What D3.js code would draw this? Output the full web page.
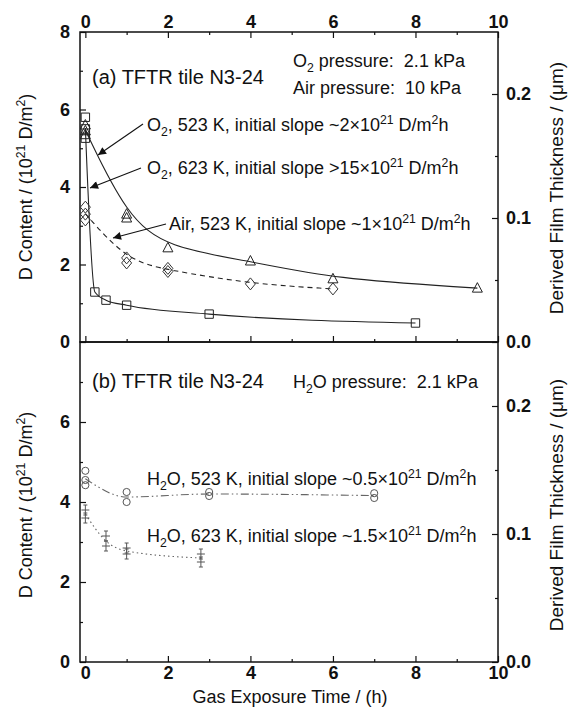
<!DOCTYPE html>
<html>
<head>
<meta charset="utf-8">
<script src="https://cdn.jsdelivr.net/npm/d3@7"></script>
<style>
  body { margin: 0; background: #fff; }
  svg text { font-family: "Liberation Sans", Arial, Helvetica, sans-serif; fill: #111; }
  .tick text { font-weight: bold; font-size: 18px; }
</style>
</head>
<body>
<svg width="579" height="711"></svg>
<script>
// ---- data (time in h, D content in 1e21 D/m2) ----
const timeTicks = [0, 2, 4, 6, 8, 10];
const timeMinor = [1, 3, 5, 7, 9];
const dTicksA = [0, 2, 4, 6, 8];
const dTicksB = [0, 2, 4, 6];
const dMinor = [1, 3, 5, 7];
const filmTicks = [0, 0.1, 0.2];
const filmMinor = [0.05, 0.15];

// (a) O2 523 K, triangles
const o2Lo_t = [0, 0, 0, 1, 1, 2, 4, 6, 9.5];
const o2Lo_d = [5.6, 5.45, 5.35, 3.3, 3.2, 2.43, 2.09, 1.63, 1.39];
// (a) O2 623 K, squares
const o2Hi_t = [0, 0, 0, 0.23, 0.5, 1, 3, 8];
const o2Hi_d = [5.8, 5.5, 5.26, 1.29, 1.08, 0.95, 0.72, 0.49];
// (a) Air 523 K, diamonds
const air_t = [0, 0, 0, 1, 1, 2, 2, 4, 6];
const air_d = [3.48, 3.3, 3.15, 2.17, 2.04, 1.9, 1.82, 1.5, 1.37];
// (b) H2O 523 K, circles
const h2oLo_t = [0, 0, 0, 1, 1, 3, 3, 7, 7];
const h2oLo_d = [4.78, 4.55, 4.42, 4.25, 4.0, 4.25, 4.15, 4.22, 4.1];
// (b) H2O 623 K, crosses
const h2oHi_t = [0, 0, 0.5, 0.5, 1, 1, 2.8, 2.8];
const h2oHi_d = [3.8, 3.6, 3.15, 2.9, 2.85, 2.7, 2.7, 2.5];

const svg = d3.select('svg');
const L = 80, R = 498, TOP = 32, MID = 342, BOT = 662;

const x = d3.scaleLinear().domain([-0.13, 10]).range([L, R]);
const yA = d3.scaleLinear().domain([0, 8]).range([MID, TOP]);
const yB = d3.scaleLinear().domain([0, 8]).range([BOT, MID]);
// film thickness: 0.1 um corresponds to 3.2e21 D/m2
const fA = d3.scaleLinear().domain([0, 0.25]).range([MID, TOP]);
const fB = d3.scaleLinear().domain([0, 0.25]).range([BOT, MID]);

// pair up times and values, and average repeated points for the guide line
function pts(t, d) { return t.map((v, i) => [v, d[i]]); }
function means(t, d) {
  return d3.rollups(pts(t, d), v => d3.mean(v, p => p[1]), p => p[0])
    .sort((a, b) => a[0] - b[0]);
}

// ---- axes ----
function addAxis(axis, tx, ty, noLabels) {
  const g = svg.append('g').attr('transform', `translate(${tx},${ty})`).call(axis);
  g.select('.domain').remove();
  g.selectAll('.tick line').attr('stroke', '#111').attr('stroke-width', 1.2);
  if (noLabels) g.selectAll('.tick text').remove();
  return g;
}
// top of (a)
addAxis(d3.axisTop(x).tickValues(timeTicks).tickSize(-6).tickPadding(4).tickFormat(d3.format('d')), 0, TOP);
addAxis(d3.axisTop(x).tickValues(timeMinor).tickSize(-3), 0, TOP, true);
// between (a) and (b)
addAxis(d3.axisBottom(x).tickValues(timeTicks).tickSize(-6), 0, MID, true);
addAxis(d3.axisBottom(x).tickValues(timeMinor).tickSize(-3), 0, MID, true);
// bottom of (b)
addAxis(d3.axisBottom(x).tickValues(timeTicks).tickSize(-6).tickPadding(4).tickFormat(d3.format('d')), 0, BOT);
addAxis(d3.axisBottom(x).tickValues(timeMinor).tickSize(-3), 0, BOT, true);

// left
addAxis(d3.axisLeft(yA).tickValues(dTicksA).tickSize(-6).tickPadding(10).tickFormat(d3.format('d')), L, 0);
addAxis(d3.axisLeft(yA).tickValues(dMinor).tickSize(-3), L, 0, true);
addAxis(d3.axisLeft(yB).tickValues(dTicksB).tickSize(-6).tickPadding(10).tickFormat(d3.format('d')), L, 0);
addAxis(d3.axisLeft(yB).tickValues(dMinor).tickSize(-3), L, 0, true);

// right
addAxis(d3.axisRight(fA).tickValues(filmTicks).tickSize(-6).tickPadding(8).tickFormat(d3.format('.1f')), R, 0);
addAxis(d3.axisRight(fA).tickValues(filmMinor).tickSize(-3), R, 0, true);
addAxis(d3.axisRight(fB).tickValues(filmTicks).tickSize(-6).tickPadding(8).tickFormat(d3.format('.1f')), R, 0);
addAxis(d3.axisRight(fB).tickValues(filmMinor).tickSize(-3), R, 0, true);

// frames
svg.append('rect').attr('x', L).attr('y', TOP).attr('width', R - L).attr('height', MID - TOP)
  .attr('fill', 'none').attr('stroke', '#111').attr('stroke-width', 1.5);
svg.append('rect').attr('x', L).attr('y', MID).attr('width', R - L).attr('height', BOT - MID)
  .attr('fill', 'none').attr('stroke', '#111').attr('stroke-width', 1.5);

// ---- lines ----
function addLine(t, d, y, dash, color, curve) {
  svg.append('path')
    .datum(means(t, d))
    .attr('fill', 'none')
    .attr('stroke', color)
    .attr('stroke-width', 1.1)
    .attr('stroke-dasharray', dash)
    .attr('d', d3.line().x(p => x(p[0])).y(p => y(p[1])).curve(curve));
}
addLine(o2Lo_t, o2Lo_d, yA, null, '#222', d3.curveBasis);
addLine(o2Hi_t, o2Hi_d, yA, null, '#222', d3.curveMonotoneX);
addLine(air_t, air_d, yA, '5,4', '#222', d3.curveBasis);
addLine(h2oLo_t, h2oLo_d, yB, '8,3,1.5,3,1.5,3', '#666', d3.curveMonotoneX);
addLine(h2oHi_t, h2oHi_d, yB, '1.5,3', '#666', d3.curveMonotoneX);

// ---- markers ----
const shapes = {
  tri: 'M0,-5.5L5,4H-5Z',
  sq: 'M-4.2,-4.2H4.2V4.2H-4.2Z',
  dia: 'M0,-6L5,0L0,6L-5,0Z',
  circ: d3.symbol().type(d3.symbolCircle).size(40)(),
  cross: 'M-4,0H4M0,-5V5M-2,-5H2M-2,5H2'
};
function addMarks(t, d, y, shape, color) {
  svg.append('g').selectAll('path')
    .data(pts(t, d))
    .join('path')
    .attr('d', shapes[shape])
    .attr('transform', p => `translate(${x(p[0])},${y(p[1])})`)
    .attr('fill', 'none')
    .attr('stroke', color)
    .attr('stroke-width', 1);
}
addMarks(o2Lo_t, o2Lo_d, yA, 'tri', '#222');
addMarks(o2Hi_t, o2Hi_d, yA, 'sq', '#222');
addMarks(air_t, air_d, yA, 'dia', '#333');
addMarks(h2oLo_t, h2oLo_d, yB, 'circ', '#555');
addMarks(h2oHi_t, h2oHi_d, yB, 'cross', '#555');

// ---- text with sub/superscripts ----
function rich(px, py, parts, size, anchor, rotate) {
  const t = svg.append('text')
    .attr('font-size', size)
    .attr('text-anchor', anchor || 'start')
    .attr('transform', `translate(${px},${py})` + (rotate ? ` rotate(${rotate})` : ''));
  let shift = 0;
  parts.forEach(([s, mode]) => {
    const want = mode === 'sub' ? 0.25 * size : mode === 'sup' ? -0.4 * size : 0;
    t.append('tspan')
      .attr('dy', want - shift)
      .attr('font-size', mode ? size * 0.68 : size)
      .text(s);
    shift = want;
  });
  return t;
}

const nb = '\u00a0';
rich(92, 84, [['(a) TFTR tile N3-24', '']], 20);
rich(293, 67, [['O', ''], ['2', 'sub'], [' pressure:' + nb + nb + '2.1 kPa', '']], 18);
rich(293, 94, [['Air pressure:' + nb + nb + '10 kPa', '']], 18);
rich(92, 388, [['(b) TFTR tile N3-24', '']], 20);
rich(293, 388, [['H', ''], ['2', 'sub'], ['O pressure:' + nb + nb + '2.1 kPa', '']], 18);

rich(147, 131, [['O', ''], ['2', 'sub'], [', 523 K, initial slope ~2×10', ''], ['21', 'sup'], [' D/m', ''], ['2', 'sup'], ['h', '']], 18);
rich(147, 174, [['O', ''], ['2', 'sub'], [', 623 K, initial slope >15×10', ''], ['21', 'sup'], [' D/m', ''], ['2', 'sup'], ['h', '']], 18);
rich(169, 230, [['Air, 523 K, initial slope ~1×10', ''], ['21', 'sup'], [' D/m', ''], ['2', 'sup'], ['h', '']], 18);
rich(147, 485, [['H', ''], ['2', 'sub'], ['O, 523 K, initial slope ~0.5×10', ''], ['21', 'sup'], [' D/m', ''], ['2', 'sup'], ['h', '']], 18);
rich(147, 542, [['H', ''], ['2', 'sub'], ['O, 623 K, initial slope ~1.5×10', ''], ['21', 'sup'], [' D/m', ''], ['2', 'sup'], ['h', '']], 18);

// arrows
svg.append('defs').append('marker')
  .attr('id', 'head').attr('viewBox', '0 0 10 10').attr('refX', 10).attr('refY', 5)
  .attr('markerWidth', 11).attr('markerHeight', 8).attr('markerUnits', 'userSpaceOnUse')
  .attr('orient', 'auto')
  .append('path').attr('d', 'M0,0L10,5L0,10Z').attr('fill', '#111');
const arrows = [[143, 124, 98, 155], [141, 168, 90, 188], [166, 224, 113, 238]];
svg.selectAll('line.arrow').data(arrows).join('line')
  .attr('class', 'arrow')
  .attr('x1', a => a[0]).attr('y1', a => a[1]).attr('x2', a => a[2]).attr('y2', a => a[3])
  .attr('stroke', '#111').attr('stroke-width', 1.1).attr('marker-end', 'url(#head)');

// axis titles
const leftTitle = [['D Content / (10', ''], ['21', 'sup'], [' D/m', ''], ['2', 'sup'], [')', '']];
rich(32, 187, leftTitle, 18, 'middle', -90);
rich(32, 505, leftTitle, 18, 'middle', -90);
rich(563, 188, [['Derived Film Thickness / (μm)', '']], 19, 'middle', -90);
rich(563, 505, [['Derived Film Thickness / (μm)', '']], 19, 'middle', -90);
rich(290, 703, [['Gas Exposure Time / (h)', '']], 18, 'middle');
</script>
</body>
</html>
